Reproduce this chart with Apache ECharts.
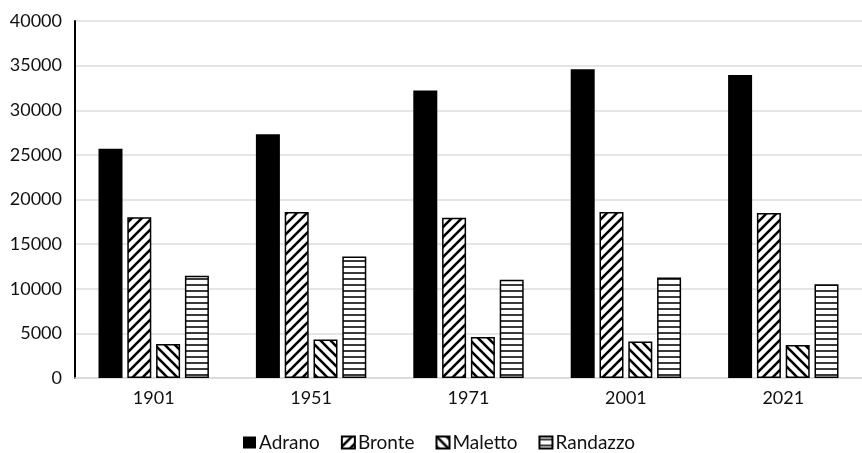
<!DOCTYPE html>
<html>
<head>
<meta charset="utf-8">
<script src="https://cdn.jsdelivr.net/npm/echarts@6/dist/echarts.min.js"></script>
<style>
  html, body { margin: 0; padding: 0; background: #fff; }
  #chart { width: 862px; height: 453px; }
</style>
</head>
<body>
<div id="chart"></div>
<script>
// Population of four towns around Etna, by census year
const years = ['1901', '1951', '1971', '2001', '2021'];
const adrano = [25700, 27300, 32200, 34600, 33950];
const bronte = [18000, 18600, 17950, 18600, 18500];
const maletto = [3800, 4300, 4600, 4100, 3700];
const randazzo = [11450, 13600, 11000, 11250, 10500];
const yTicks = { min: 0, max: 40000, step: 5000 };

const FONT = 'Lato, "Open Sans", sans-serif';

// Hatch tiles used as repeating fills
function diagonalTile(forward) {
  const s = 10;
  const c = document.createElement('canvas');
  c.width = s; c.height = s;
  const g = c.getContext('2d');
  g.fillStyle = '#fff';
  g.fillRect(0, 0, s, s);
  g.strokeStyle = '#000';
  g.lineWidth = 2.6;
  g.lineCap = 'square';
  for (let k = -1; k <= 1; k++) {
    g.beginPath();
    if (forward) {
      g.moveTo(k * s, s);
      g.lineTo(k * s + s, 0);
    } else {
      g.moveTo(k * s, 0);
      g.lineTo(k * s + s, s);
    }
    g.stroke();
  }
  return c;
}

function horizontalTile() {
  const c = document.createElement('canvas');
  c.width = 6; c.height = 6;
  const g = c.getContext('2d');
  g.fillStyle = '#fff';
  g.fillRect(0, 0, 6, 6);
  g.fillStyle = '#3a3a3a';
  g.fillRect(0, 2, 6, 2);
  return c;
}

const fills = {
  bronte: { image: diagonalTile(true), repeat: 'repeat' },
  maletto: { image: diagonalTile(false), repeat: 'repeat' },
  randazzo: { image: horizontalTile(), repeat: 'repeat' }
};

function barSeries(name, data, color, bordered) {
  return {
    name: name,
    type: 'bar',
    data: data,
    barWidth: 24,
    barGap: '20%',
    itemStyle: {
      color: color,
      borderColor: '#000',
      borderWidth: bordered ? 1.5 : 0
    },
    emphasis: { disabled: true }
  };
}

const chart = echarts.init(document.getElementById('chart'), null, { renderer: 'canvas' });
chart.setOption({
  animation: false,
  backgroundColor: '#fff',
  grid: { left: 75, top: 21, width: 795, bottom: 75, containLabel: false },
  legend: {
    left: 243,
    top: 433,
    padding: 0,
    itemWidth: 13,
    itemHeight: 12,
    itemGap: 21,
    icon: 'rect',
    textStyle: { fontFamily: FONT, fontSize: 19, color: '#111', padding: [0, 0, 0, -2] },
    data: ['Adrano', 'Bronte', 'Maletto', 'Randazzo']
  },
  xAxis: {
    type: 'category',
    data: years,
    axisLine: { show: true, lineStyle: { color: '#d9d9d9', width: 1.5 } },
    axisTick: { show: false },
    axisLabel: { fontFamily: FONT, fontSize: 18, color: '#111', margin: 11 }
  },
  yAxis: {
    type: 'value',
    min: yTicks.min,
    max: yTicks.max,
    interval: yTicks.step,
    axisLine: { show: true, lineStyle: { color: '#000', width: 2 } },
    axisTick: { show: false },
    splitLine: { show: true, lineStyle: { color: '#dcdcdc', width: 1.5 } },
    axisLabel: {
      fontFamily: FONT, fontSize: 18, color: '#111', margin: 13,
      formatter: function (v) { return String(v); }
    }
  },
  series: [
    barSeries('Adrano', adrano, '#000', false),
    barSeries('Bronte', bronte, fills.bronte, true),
    barSeries('Maletto', maletto, fills.maletto, true),
    barSeries('Randazzo', randazzo, fills.randazzo, true)
  ]
});
</script>
</body>
</html>
